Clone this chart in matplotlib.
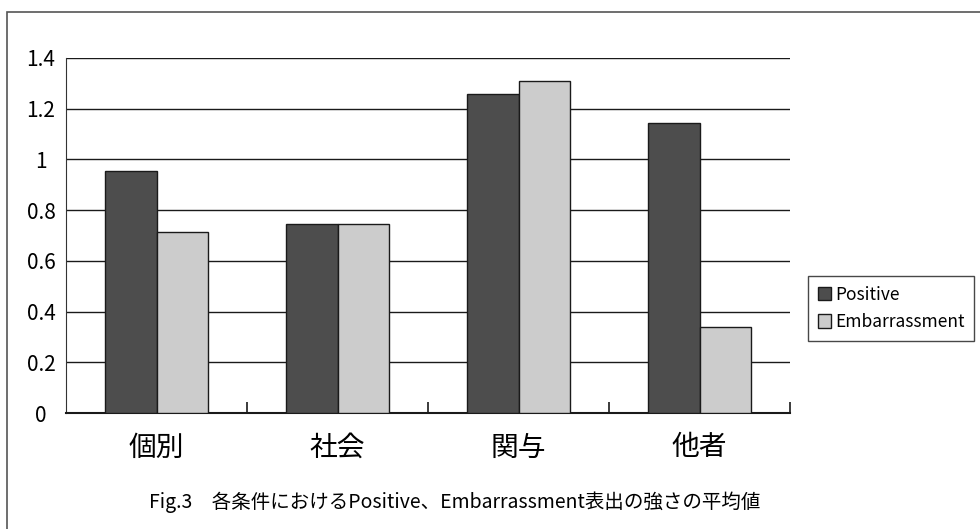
import numpy as np
import matplotlib.pyplot as plt
from matplotlib.patches import Rectangle

plt.rcParams['font.family'] = ['Noto Sans CJK JP', 'DejaVu Sans']

# data
categories = ['個別', '社会', '関与', '他者']
positive = [0.955, 0.745, 1.26, 1.145]
embarrassment = [0.715, 0.745, 1.31, 0.34]
yticks = [0, 0.2, 0.4, 0.6, 0.8, 1, 1.2, 1.4]
ytick_labels = ['0', '0.2', '0.4', '0.6', '0.8', '1', '1.2', '1.4']

fig = plt.figure(figsize=(9.8, 5.29), dpi=100)

# outer chart frame (right and bottom edges run off the image)
fig.patches.append(Rectangle((7 / 980, -0.1), 1.2, 1.1 - 12 / 529, transform=fig.transFigure,
                             fill=False, edgecolor='#555555', linewidth=1.2))

ax = fig.add_axes([66 / 980, 1 - 413 / 529, (790 - 66) / 980, (413 - 58) / 529])

x = np.arange(len(categories))
w = 0.287
ax.bar(x - w / 2, positive, w, color='#4d4d4d', edgecolor='#1a1a1a', linewidth=1, label='Positive', zorder=3)
ax.bar(x + w / 2, embarrassment, w, color='#cccccc', edgecolor='#1a1a1a', linewidth=1, label='Embarrassment', zorder=3)

ax.set_xlim(-0.5, len(categories) - 0.5)
ax.set_ylim(0, 1.4)
ax.set_yticks(yticks)
ax.set_yticklabels(ytick_labels, fontsize=15)
ax.tick_params(axis='y', length=0, pad=18)
for lab in ax.get_yticklabels():
    lab.set_horizontalalignment('center')

ax.set_xticks(x)
ax.set_xticklabels(categories, fontsize=20)
ax.tick_params(axis='x', length=0, pad=14)
# category separator ticks pointing up
ax.set_xticks(np.arange(len(categories)) + 0.5, minor=True)
ax.tick_params(axis='x', which='minor', direction='in', length=8, width=1.2, color='#1a1a1a')

ax.yaxis.grid(True, color='#1a1a1a', linewidth=1)
ax.set_axisbelow(True)
for s in ['top', 'right']:
    ax.spines[s].set_visible(False)
ax.spines['left'].set_color('#333333')
ax.spines['bottom'].set_color('#1a1a1a')
ax.spines['bottom'].set_linewidth(1.5)

leg = fig.legend(loc='upper left', bbox_to_anchor=(808 / 980, 1 - 276 / 529), fontsize=12.5,
                 frameon=True, fancybox=False, edgecolor='#1a1a1a', handlelength=0.8,
                 handleheight=0.8, handletextpad=0.2, borderpad=0.55, labelspacing=0.55,
                 borderaxespad=0)
leg.get_frame().set_linewidth(1)

fig.text(455 / 980, 1 - 502 / 529, 'Fig.3\u3000各条件におけるPositive、Embarrassment表出の強さの平均値',
         ha='center', va='center', fontsize=14)

fig.savefig('out.png', dpi=100)
